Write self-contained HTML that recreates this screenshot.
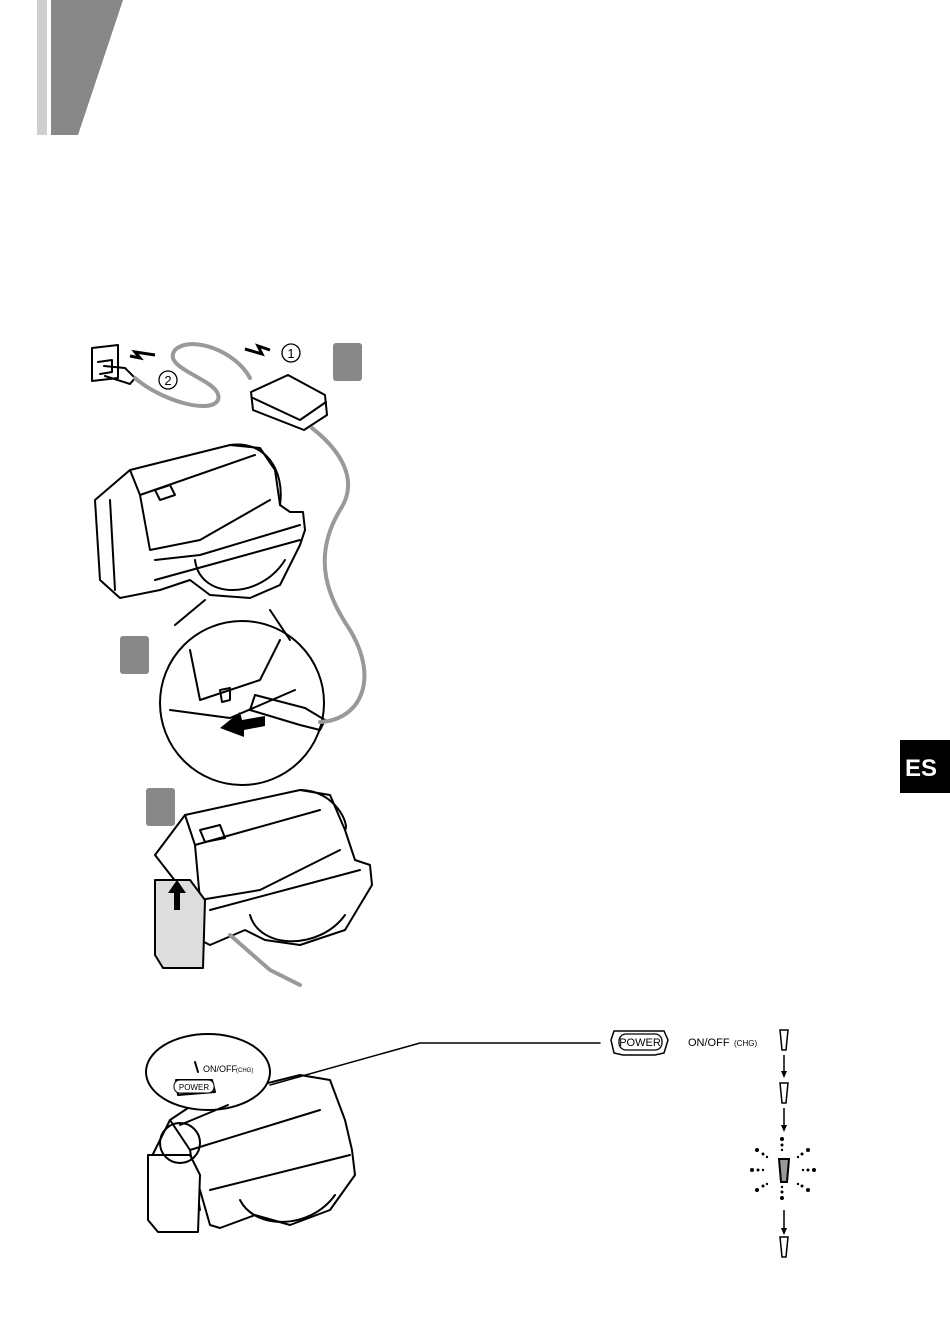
<!DOCTYPE html>
<html><head><meta charset="utf-8"><style>
html,body{margin:0;padding:0;background:#fff;width:950px;height:1340px;overflow:hidden}
svg{display:block}
text{font-family:"Liberation Sans",sans-serif}
</style></head><body>
<svg width="950" height="1340" viewBox="0 0 950 1340" xmlns="http://www.w3.org/2000/svg">
<rect x="37" y="0" width="10" height="135" fill="#cfcfcf"/>
<polygon points="51,0 123,0 78,135 51,135" fill="#888"/>
<rect x="900" y="740" width="50" height="53" fill="#000"/>
<text x="921" y="776" font-size="24" font-weight="bold" fill="#fff" text-anchor="middle">ES</text>
<rect x="333" y="343" width="29" height="38" rx="3" fill="#888"/>
<rect x="120" y="636" width="29" height="38" rx="3" fill="#888"/>
<rect x="146" y="788" width="29" height="38" rx="3" fill="#888"/>
<g fill="none" stroke="#000" stroke-width="2" stroke-linejoin="round" stroke-linecap="round">
<path d="M92,348 L118,345 L118,378 L92,381 Z"/>
<path d="M98,362 L112,360 L112,372 L100,374"/>
<path d="M104,366 L125,368 L135,378 L130,384 L105,376"/>
<path d="M251,392 L288,375 L325,395 L327,415 L304,430 L253,410 Z"/>
<path d="M253,398 L300,420 L326,402"/>
<!-- camcorder 1 -->
<path d="M95,500 L130,470 L230,445 L260,448 L275,470 L280,505 L290,512 L303,512 L305,530 L300,545 L280,585 L250,598 L210,595 L190,580 L160,590 L120,598 L100,580 Z"/>
<path d="M230,445 C265,440 285,470 280,505"/>
<path d="M130,470 L140,495 L255,455"/>
<path d="M140,495 L150,550 L200,540 L270,500"/>
<path d="M155,560 L200,555 L300,525"/>
<path d="M155,580 L300,540"/>
<path d="M110,500 L115,590"/>
<path d="M195,560 C200,600 260,600 285,560"/>
<path d="M155,490 L170,485 L175,495 L160,500 Z"/>
<circle cx="242" cy="703" r="82"/>
<path d="M175,625 L205,600"/>
<path d="M290,640 L270,610"/>
<path d="M190,650 L200,700 L260,680 L280,640"/>
<path d="M170,710 L230,718 L295,690"/>
<path d="M220,690 L230,688 L230,700 L222,702 Z"/>
<path d="M255,695 L305,708 L325,720 L320,730 L300,725 L250,710 Z"/>
<!-- camcorder 2 -->
<path d="M155,855 L185,815 L300,790 L330,795 L345,830 L355,860 L370,865 L372,885 L345,930 L300,945 L265,940 L245,930 L210,945 L200,940 L190,900 Z"/>
<path d="M300,790 C335,790 350,825 345,830"/>
<path d="M185,815 L195,845 L320,810"/>
<path d="M195,845 L200,900 L260,890 L340,850"/>
<path d="M210,910 L360,870"/>
<path d="M250,915 C260,950 320,950 345,915"/>
<path d="M200,830 L220,825 L225,838 L205,842 Z"/>
<path d="M155,880 L190,880 L205,900 L203,968 L163,968 L155,955 Z" fill="#ddd"/>
<!-- camcorder 3 -->
<path d="M150,1160 L170,1120 L200,1100 L300,1075 L330,1080 L345,1120 L352,1150 L355,1175 L330,1210 L290,1225 L255,1215 L220,1228 L210,1225 L200,1190 Z"/>
<path d="M170,1120 L190,1150 L320,1110"/>
<path d="M190,1150 L200,1210"/>
<path d="M210,1190 L350,1155"/>
<path d="M240,1200 C255,1230 310,1230 335,1195"/>
<path d="M148,1155 L190,1155 L200,1175 L198,1232 L158,1232 L148,1220 Z" fill="#fff"/>
<ellipse cx="208" cy="1072" rx="62" ry="38" fill="#fff"/>
<circle cx="180" cy="1143" r="20"/>
<path d="M195,1062 L198,1072"/>
<path d="M176,1080 L212,1080 L215,1092 L178,1095 Z"/>
<path d="M228,1105 L180,1125"/>
<path d="M270,1085 L420,1043 L600,1043" stroke-width="1.5"/>
</g>
<g fill="none" stroke="#999" stroke-width="4" stroke-linecap="round">
<path d="M135,378 C160,400 210,415 218,400 C225,380 160,370 175,350 C190,335 235,350 250,378"/>
<path d="M312,428 C340,450 360,480 340,510 C310,560 330,600 350,630 C380,680 360,720 320,722"/>
<path d="M230,935 L270,970 L300,985"/>
</g>
<path d="M245,349 L262,354 L258,346 L270,350" stroke="#000" stroke-width="3" fill="none"/>
<path d="M155,355 L135,352 L140,358 L130,356" stroke="#000" stroke-width="3" fill="none"/>
<polygon points="220,728 240,712 242,720 265,716 265,726 244,730 244,737" fill="#000"/>
<polygon points="177,880 168,893 174,893 174,910 180,910 180,893 186,893" fill="#000"/>
<circle cx="291" cy="353" r="9" fill="none" stroke="#000" stroke-width="1.3"/>
<text x="291" y="358" font-size="13" text-anchor="middle">1</text>
<circle cx="168" cy="380" r="9" fill="none" stroke="#000" stroke-width="1.3"/>
<text x="168" y="385" font-size="13" text-anchor="middle">2</text>
<text x="203" y="1072" font-size="9">ON/OFF</text><text x="236" y="1072" font-size="6">(CHG)</text>
<rect x="174" y="1080" width="40" height="13" rx="6" fill="#fff" stroke="#000"/>
<text x="194" y="1090" font-size="8" text-anchor="middle">POWER</text>
<path d="M614,1031 L664,1031 L668,1040 L664,1053 L655,1055 L623,1055 L614,1053 L611,1040 Z" fill="none" stroke="#000" stroke-width="1.5"/>
<rect x="619" y="1034" width="43" height="16" rx="7" fill="none" stroke="#000" stroke-width="1.3"/>
<text x="640" y="1046" font-size="11" text-anchor="middle">POWER</text>
<text x="688" y="1046" font-size="11">ON/OFF</text><text x="734" y="1046" font-size="8">(CHG)</text>
<g fill="none" stroke="#000" stroke-width="1.5">
<path d="M780,1030 L788,1030 L786,1050 L782,1050 Z"/>
<path d="M780,1083 L788,1083 L786,1103 L782,1103 Z"/>
<path d="M780,1237 L788,1237 L786,1257 L782,1257 Z"/>
<path d="M784,1055 L784,1075 M784,1108 L784,1130 M784,1210 L784,1230"/>
</g>
<path d="M779,1159 L789,1159 L787,1182 L781,1182 Z" fill="#999" stroke="#000" stroke-width="2"/>
<g fill="#000">
<polygon points="781,1071 787,1071 784,1078"/><polygon points="781,1125 787,1125 784,1132"/><polygon points="781,1228 787,1228 784,1235"/>
<circle cx="782" cy="1139" r="2"/><circle cx="782" cy="1145" r="1.5"/><circle cx="782" cy="1150" r="1.2"/>
<circle cx="782" cy="1198" r="2"/><circle cx="782" cy="1192" r="1.5"/><circle cx="782" cy="1187" r="1.2"/>
<circle cx="752" cy="1170" r="2"/><circle cx="758" cy="1170" r="1.5"/><circle cx="763" cy="1170" r="1.2"/>
<circle cx="814" cy="1170" r="2"/><circle cx="808" cy="1170" r="1.5"/><circle cx="803" cy="1170" r="1.2"/>
<circle cx="757" cy="1150" r="2"/><circle cx="763" cy="1154" r="1.5"/><circle cx="767" cy="1157" r="1.2"/>
<circle cx="808" cy="1150" r="2"/><circle cx="802" cy="1154" r="1.5"/><circle cx="798" cy="1157" r="1.2"/>
<circle cx="757" cy="1190" r="2"/><circle cx="763" cy="1186" r="1.5"/><circle cx="767" cy="1184" r="1.2"/>
<circle cx="808" cy="1190" r="2"/><circle cx="802" cy="1186" r="1.5"/><circle cx="798" cy="1184" r="1.2"/>
</g>
</svg>
</body></html>
